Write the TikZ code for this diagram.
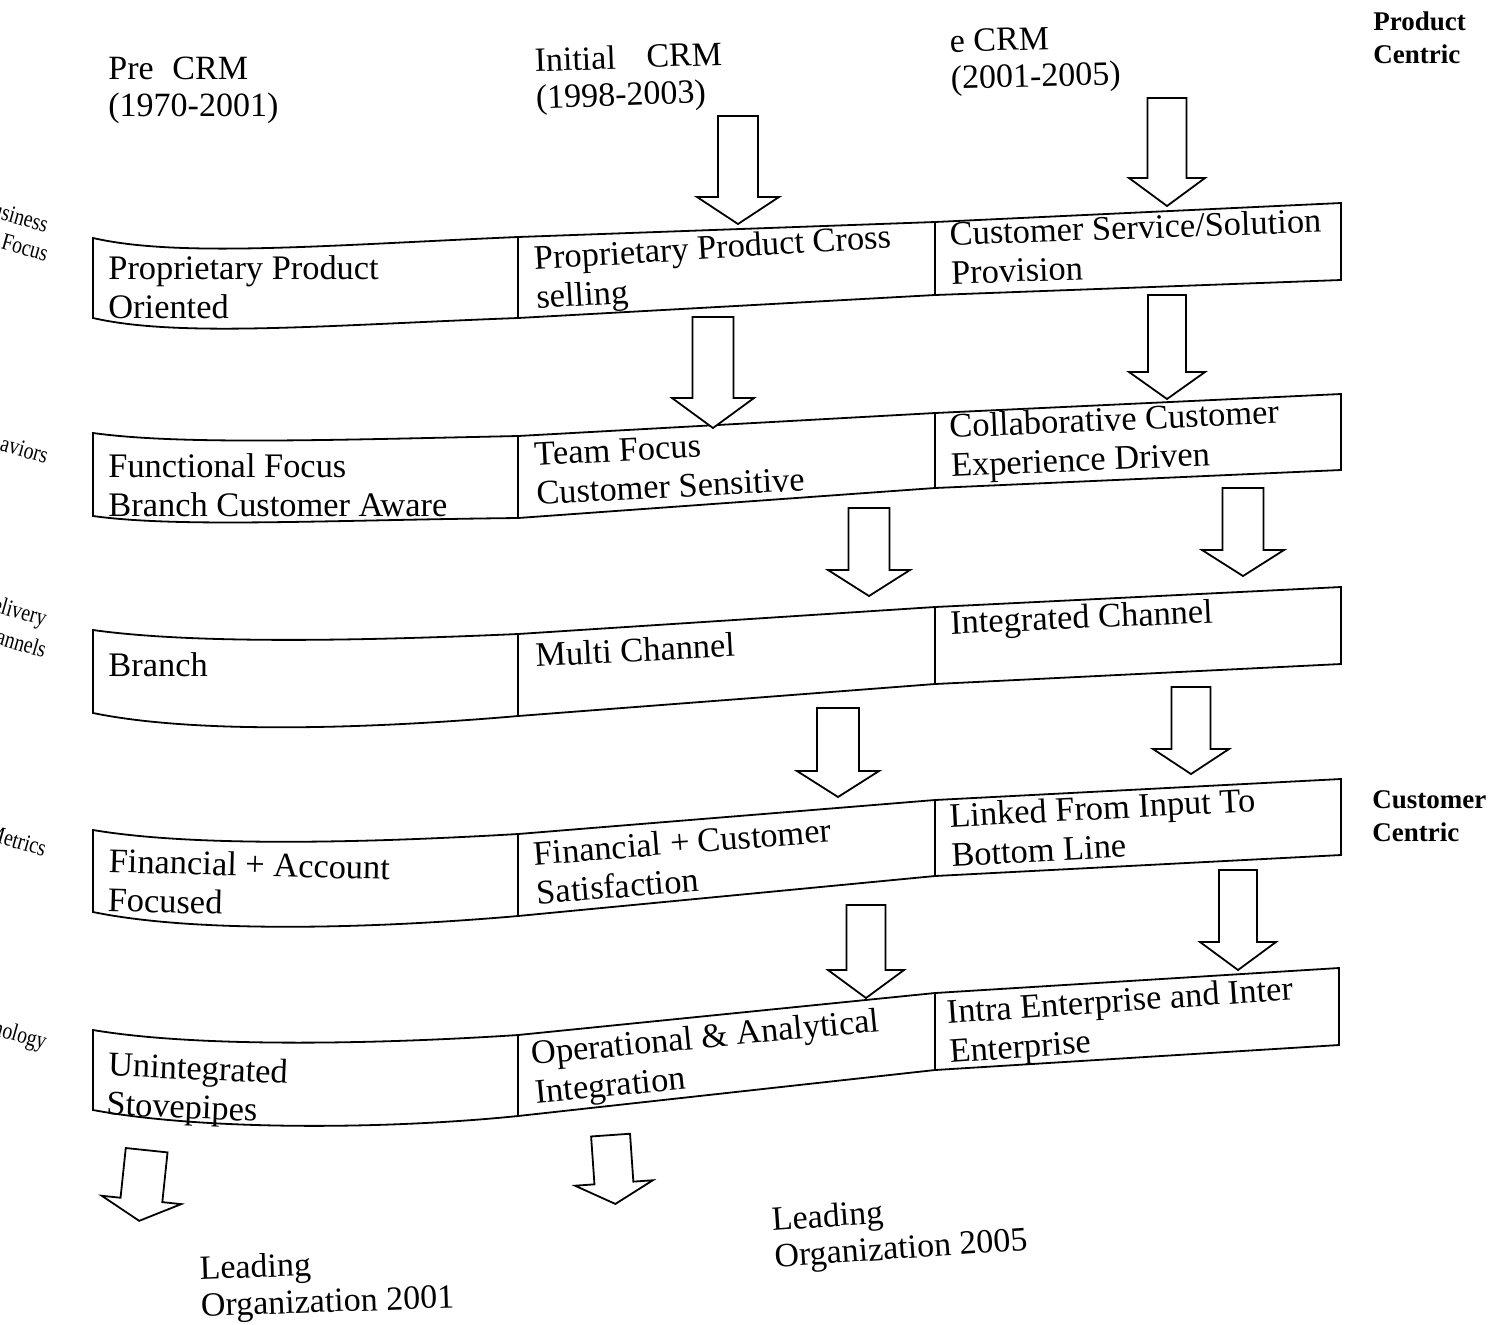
\documentclass[tikz,border=0pt]{standalone}
\usepackage{fontspec}
\setmainfont{Liberation Serif}

% outlined down arrow: cx, top, neck, tip, shaft half width, head half width
\newcommand\blockarrow[6]{%
  \draw[blockarrow] (#1-#5,#2) -- (#1+#5,#2) -- (#1+#5,#3) -- (#1+#6,#3)
    -- (#1,#4) -- (#1-#6,#3) -- (#1-#5,#3) -- cycle;}

\begin{document}
\begin{tikzpicture}[x=0.5pt,y=-0.5pt,
  band/.style={draw=black,line width=0.9pt,line join=miter},
  blockarrow/.style={draw=black,line width=0.9pt,line join=miter,fill=white},
  celltext/.style={anchor=west,align=left,inner sep=0pt,font=\fontsize{17.2}{19.5}\selectfont},
  headtext/.style={anchor=west,align=left,inner sep=0pt,font=\fontsize{17}{18.5}\selectfont},
  sidelabel/.style={anchor=east,inner sep=0pt,rotate=-16,xscale=0.82,
    font=\fontsize{12}{14.5}\selectfont},
  centric/.style={anchor=west,align=left,inner sep=0pt,font=\bfseries\fontsize{13.5}{16.5}\selectfont}]

\useasboundingbox[fill=white] (0,0) rectangle (1492,1324);

% ---------- column headings ----------
\node[headtext] (pre) at (108,90) {Pre\hspace{0.55em}CRM\\(1970-2001)};
\node[headtext,rotate=2] (initial) at (535,82) {Initial\hspace{0.9em}CRM\\(1998-2003)};
\node[headtext,rotate=1.5] (ecrm) at (950,63) {e CRM\\(2001-2005)};
\node[centric] (prodcentric) at (1373,38) {Product\\Centric};
\node[centric] (custcentric) at (1372,816) {Customer\\Centric};

% ---------- row labels at the page edge ----------
\begin{scope}
\clip (0,0) rectangle (100,1324);
\node[sidelabel] (lbusiness) at (48,225) {Business};
\node[sidelabel] (lfocus) at (48,254) {Focus};
\node[sidelabel] (lbehav) at (48,456) {Behaviors};
\node[sidelabel] (ldelivery) at (46,621) {Delivery};
\node[sidelabel] (lchannels) at (46,650) {Channels};
\node[sidelabel] (lmetrics) at (46,849) {Metrics};
\node[sidelabel] (ltech) at (46,1044) {Technology};
\end{scope}

% ---------- band 1 ----------
\coordinate (b1tl) at (93,238);  \coordinate (b1tm) at (518,237);
\coordinate (b1tr) at (935,222); \coordinate (b1te) at (1341,203);
\coordinate (b1bl) at (93,318);  \coordinate (b1bm) at (518,318);
\coordinate (b1br) at (935,295); \coordinate (b1be) at (1341,280);
\draw[band] (b1tl) .. controls (180,258) and (330,245) .. (b1tm) -- (b1tr) -- (b1te)
  -- (b1be) -- (b1br) -- (b1bm) .. controls (330,325) and (180,338) .. (b1bl) -- cycle;
\draw[band] (b1tm) -- (b1bm) (b1tr) -- (b1br);

% ---------- band 2 ----------
\coordinate (b2tl) at (93,433);  \coordinate (b2tm) at (518,436);
\coordinate (b2tr) at (935,413); \coordinate (b2te) at (1341,394);
\coordinate (b2bl) at (93,516);  \coordinate (b2bm) at (518,518);
\coordinate (b2br) at (935,488); \coordinate (b2be) at (1341,470);
\draw[band] (b2tl) .. controls (180,445) and (330,440) .. (b2tm) -- (b2tr) -- (b2te)
  -- (b2be) -- (b2br) -- (b2bm) .. controls (330,520) and (180,528) .. (b2bl) -- cycle;
\draw[band] (b2tm) -- (b2bm) (b2tr) -- (b2br);

% ---------- band 3 ----------
\coordinate (b3tl) at (93,630);  \coordinate (b3tm) at (518,634);
\coordinate (b3tr) at (935,607); \coordinate (b3te) at (1341,587);
\coordinate (b3bl) at (93,713);  \coordinate (b3bm) at (518,716);
\coordinate (b3br) at (935,684); \coordinate (b3be) at (1341,664);
\draw[band] (b3tl) .. controls (200,645) and (380,640) .. (b3tm) -- (b3tr) -- (b3te)
  -- (b3be) -- (b3br) -- (b3bm) .. controls (380,728) and (200,735) .. (b3bl) -- cycle;
\draw[band] (b3tm) -- (b3bm) (b3tr) -- (b3br);

% ---------- band 4 ----------
\coordinate (b4tl) at (93,830);  \coordinate (b4tm) at (518,834);
\coordinate (b4tr) at (935,800); \coordinate (b4te) at (1341,779);
\coordinate (b4bl) at (93,912);  \coordinate (b4bm) at (518,916);
\coordinate (b4br) at (935,876); \coordinate (b4be) at (1341,855);
\draw[band] (b4tl) .. controls (200,848) and (380,842) .. (b4tm) -- (b4tr) -- (b4te)
  -- (b4be) -- (b4br) -- (b4bm) .. controls (380,928) and (200,934) .. (b4bl) -- cycle;
\draw[band] (b4tm) -- (b4bm) (b4tr) -- (b4br);

% ---------- band 5 ----------
\coordinate (b5tl) at (93,1030);  \coordinate (b5tm) at (518,1035);
\coordinate (b5tr) at (935,993);  \coordinate (b5te) at (1339,968);
\coordinate (b5bl) at (93,1110);  \coordinate (b5bm) at (518,1116);
\coordinate (b5br) at (935,1070); \coordinate (b5be) at (1339,1045);
\draw[band] (b5tl) .. controls (200,1048) and (380,1044) .. (b5tm) -- (b5tr) -- (b5te)
  -- (b5be) -- (b5br) -- (b5bm) .. controls (380,1130) and (200,1130) .. (b5bl) -- cycle;
\draw[band] (b5tm) -- (b5bm) (b5tr) -- (b5br);

% ---------- cell texts ----------
\node[celltext] (c11) at (108,287) {Proprietary Product\\Oriented};
\node[celltext,rotate=3.5] (c12) at (535,281) {Proprietary Product Cross\\selling};
\node[celltext,rotate=2] (c13) at (950,253) {Customer Service/Solution\\Provision};

\node[celltext] (c21) at (108,485) {Functional Focus\\Branch Customer Aware};
\node[celltext,rotate=3] (c22) at (535,474) {Team Focus\\Customer Sensitive};
\node[celltext,rotate=2.5] (c23) at (950,449) {Collaborative Customer\\Experience Driven};

\node[celltext] (c31) at (108,665) {Branch};
\node[celltext,rotate=3] (c32) at (535,655) {Multi Channel};
\node[celltext,rotate=2.5] (c33) at (950,626) {Integrated Channel};

\node[celltext,rotate=-1.5] (c41) at (108,880) {Financial + Account\\Focused};
\node[celltext,rotate=4.5] (c42) at (535,873) {Financial + Customer\\Satisfaction};
\node[celltext,rotate=3] (c43) at (950,835) {Linked From Input To\\Bottom Line};

\node[celltext,rotate=-2.5] (c51) at (107,1087) {Unintegrated\\Stovepipes};
\node[celltext,rotate=5.5] (c52) at (533,1076) {Operational \& Analytical\\Integration};
\node[celltext,rotate=4] (c53) at (948,1035) {Intra Enterprise and Inter\\Enterprise};

% ---------- arrows ----------
\blockarrow{738}{116}{197}{224}{20}{41}
\blockarrow{1167}{98}{178}{206}{19.5}{38}
\blockarrow{713}{317}{398}{428}{20.5}{41}
\blockarrow{1167}{295}{372}{399}{19}{38}
\blockarrow{869}{508}{570}{596}{20.5}{41}
\blockarrow{1243}{488}{550}{576}{20.5}{41}
\blockarrow{838}{708}{771}{797}{21}{41}
\blockarrow{1191}{687}{749}{774}{19.5}{38}
\blockarrow{866}{905}{970}{998}{19.5}{38}
\blockarrow{1238}{870}{942}{970}{19}{38}
\begin{scope}[rotate around={-6:(143,1185)}]
\blockarrow{143}{1150}{1200}{1221}{21}{40}
\end{scope}
\begin{scope}[rotate around={4:(613,1170)}]
\blockarrow{613}{1135}{1183}{1204}{19.5}{39}
\end{scope}

% ---------- bottom captions ----------
\node[headtext,rotate=2] (lead01) at (200,1290) {Leading\\Organization 2001};
\node[headtext,rotate=4] (lead05) at (773,1241) {Leading\\Organization 2005};

\end{tikzpicture}
\end{document}
